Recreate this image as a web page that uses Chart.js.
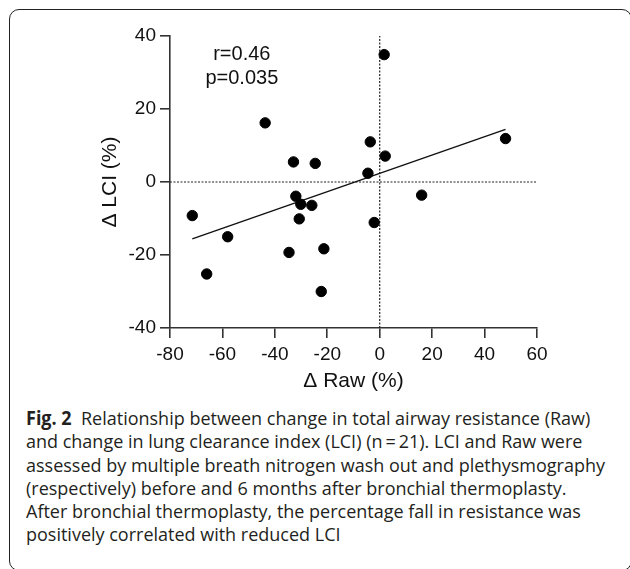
<!DOCTYPE html>
<html>
<head>
<meta charset="utf-8">
<script src="https://cdn.jsdelivr.net/npm/chart.js@4.4.1/dist/chart.umd.min.js"></script>
<style>
  html, body { margin: 0; padding: 0; background: #fff; }
  body { width: 630px; height: 569px; position: relative; overflow: hidden; }
  #frame { position: absolute; left: 9px; top: 9px; width: 623px; height: 562px;
           border: 1px solid #222; border-radius: 10px; box-sizing: border-box; }
  #wrap { position: absolute; left: 0; top: 0; width: 630px; height: 400px; }
  #caption { position: absolute; left: 26px; top: 407px; white-space: nowrap;
             font-family: 'Open Sans', sans-serif; font-size: 19px; line-height: 23.3px;
             color: #231f20; transform-origin: 0 0; }
  #caption b { font-weight: 700; }
</style>
</head>
<body>
<div id="frame"></div>
<div id="wrap"><canvas id="chart" width="630" height="400"></canvas></div>
<div id="caption">
  <div id="cap1"><b>Fig. 2</b>&nbsp; Relationship between change in total airway resistance (Raw)</div>
  <div>and change in lung clearance index (LCI) (n&#8201;=&#8201;21). LCI and Raw were</div>
  <div>assessed by multiple breath nitrogen wash out and plethysmography</div>
  <div>(respectively) before and 6 months after bronchial thermoplasty.</div>
  <div>After bronchial thermoplasty, the percentage fall in resistance was</div>
  <div>positively correlated with reduced LCI</div>
</div>
<script>
// ===== DATA =====
const rawChange = [1.7, -43.7, 48.0, -3.6, 2.1, -32.9, -24.6, -4.5, 16.0, -32.0,
                   -30.1, -25.9, -71.5, -30.7, -2.1, -58.0, -34.6, -21.3, -66.0, -22.3];
const lciChange = [34.9, 16.2, 11.9, 11.0, 7.1, 5.5, 5.1, 2.4, -3.6, -3.9,
                   -6.1, -6.4, -9.2, -10.1, -11.1, -15.0, -19.3, -18.3, -25.2, -30.0];
const fitX = [-71.5, 48.0];
const fitY = [-15.6, 14.4];
const xTicks = [-80, -60, -40, -20, 0, 20, 40, 60];
const yTicks = [-40, -20, 0, 20, 40];
const statsText = ['r=0.46', 'p=0.035'];

Chart.defaults.font.family = "'Liberation Sans', Arial, sans-serif";
Chart.defaults.color = '#111';

const points = rawChange.map((x, i) => ({ x: x, y: lciChange[i] }));
const fitLine = fitX.map((x, i) => ({ x: x, y: fitY[i] }));
const xMin = xTicks[0], xMax = xTicks[xTicks.length - 1];
const yMin = yTicks[0], yMax = yTicks[yTicks.length - 1];

// r / p label, anchored in data units
const statsLabel = {
    id: 'statsLabel',
    afterDatasetsDraw(chart) {
        const g = chart.ctx, xs = chart.scales.x, ys = chart.scales.y;
        g.save();
        g.font = "20px 'Liberation Sans', Arial, sans-serif";
        g.fillStyle = '#111';
        g.textAlign = 'center';
        g.textBaseline = 'alphabetic';
        g.fillText(statsText[0], xs.getPixelForValue(-52.6), ys.getPixelForValue(33.3));
        g.fillText(statsText[1], xs.getPixelForValue(-52.6), ys.getPixelForValue(26.8));
        g.restore();
    }
};

new Chart(document.getElementById('chart'), {
    type: 'scatter',
    data: {
        datasets: [
            { data: points, backgroundColor: '#000', borderColor: '#000', pointRadius: 5.2, pointHoverRadius: 5.2 },
            { data: fitLine, type: 'line', showLine: true, borderColor: '#111', borderWidth: 1.4, pointRadius: 0, fill: false },
            { data: [{ x: xMin, y: 0 }, { x: xMax, y: 0 }], type: 'line', showLine: true, borderColor: '#222', borderWidth: 1.2, borderDash: [2, 1.5], pointRadius: 0, fill: false },
            { data: [{ x: 0, y: yMin }, { x: 0, y: yMax }], type: 'line', showLine: true, borderColor: '#222', borderWidth: 1.2, borderDash: [2, 1.5], pointRadius: 0, fill: false }
        ]
    },
    options: {
        responsive: false, animation: false,
        layout: { padding: { left: 90, right: 93, top: 36, bottom: 6 } },
        plugins: { legend: { display: false }, tooltip: { enabled: false } },
        scales: {
            x: {
                type: 'linear', min: xMin, max: xMax,
                afterBuildTicks: s => { s.ticks = xTicks.map(v => ({ value: v })); },
                afterFit: s => { s.height = 66; },
                border: { display: true, color: '#333', width: 1.6 },
                grid: { drawOnChartArea: false, drawTicks: true, tickLength: 10, color: '#333', lineWidth: 1.6 },
                ticks: { font: { size: 19 }, color: '#111', padding: 5, maxRotation: 0 },
                title: { display: true, text: '\u0394 Raw (%)', font: { size: 21 }, color: '#111', padding: { top: 0, bottom: 0 } }
            },
            y: {
                type: 'linear', min: yMin, max: yMax,
                afterBuildTicks: s => { s.ticks = yTicks.map(v => ({ value: v })); },
                afterFit: s => { s.width = 80; },
                border: { display: true, color: '#333', width: 1.6 },
                grid: { drawOnChartArea: false, drawTicks: true, tickLength: 10, color: '#333', lineWidth: 1.6 },
                ticks: { font: { size: 19 }, color: '#111', padding: 4 },
                title: { display: true, text: '\u0394 LCI (%)', font: { size: 21 }, color: '#111', padding: { top: 8, bottom: 0 } }
            }
        }
    },
    plugins: [statsLabel]
});

// squeeze caption to the width of the original typeset lines
const cap = document.getElementById('caption');
const w1 = document.getElementById('cap1').getBoundingClientRect().width;
cap.style.transform = 'scaleX(' + (579 / w1) + ')';
</script>
</body>
</html>
